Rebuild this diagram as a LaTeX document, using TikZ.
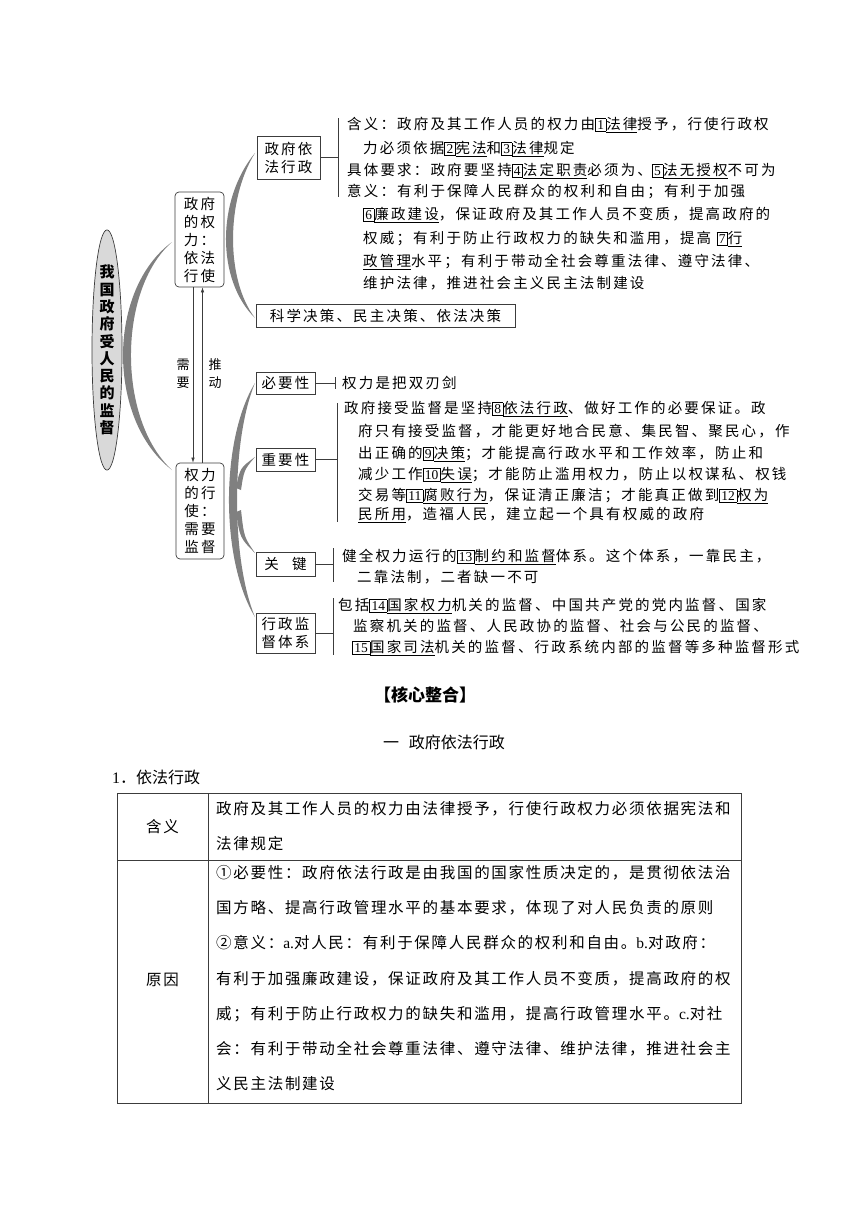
\documentclass[tikz,border=0pt]{standalone}
\usepackage{fontspec}
\setmainfont{Noto Sans CJK SC}
\newfontfamily\cjk[LetterSpace=15]{Noto Sans CJK SC}
\newfontfamily\cjkt[LetterSpace=11]{Noto Sans CJK SC}
\newfontfamily\numf{Liberation Serif}
\usetikzlibrary{shapes.geometric, arrows.meta, positioning, calc}
\definecolor{mygray}{RGB}{128,128,128}
\definecolor{myshade}{RGB}{217,217,217}
\definecolor{myline}{RGB}{60,60,60}
\newcommand{\nbox}[1]{{\setlength{\fboxsep}{1.6pt}\setlength{\fboxrule}{0.6pt}\fbox{\numf\fontsize{13.5}{13.5}\selectfont #1}}}
\newcommand{\ans}[1]{\underline{#1}}
\tikzset{
  kbox/.style={rectangle,draw=myline,line width=0.7pt,inner sep=0pt,align=center,
    font=\cjk\fontsize{14.5}{18}\selectfont},
  rbox/.style={kbox,rounded corners=4pt},
  ln/.style={anchor=base west,inner sep=0pt,yshift=-5.5pt,font=\cjk\fontsize{14.5}{17}\selectfont},
  tln/.style={anchor=base west,inner sep=0pt,yshift=-6pt,font=\cjkt\fontsize{15.5}{17}\selectfont},
  moon/.style={fill=mygray,draw=none},
  brace/.style={draw=myline,line width=0.6pt},
  arr/.style={-{Latex[length=5pt,width=3.5pt]},draw=myline,line width=0.6pt},
  small/.style={align=center,inner sep=0pt,font=\cjk\fontsize{13}{18}\selectfont}
}

\begin{document}
\begin{tikzpicture}[x=1pt,y=-1pt]
  \fill[white] (0,0) rectangle (860,1216);
  \useasboundingbox (0,0) rectangle (860,1216);

  % Root ellipse
  \node[ellipse,draw=myline,fill=myshade,line width=0.7pt,minimum width=30pt,minimum height=215pt,
    inner sep=0pt,align=center,font=\bfseries\fontsize{15}{17.3}\selectfont] (root) at (107,350)
    {我\\国\\政\\府\\受\\人\\民\\的\\监\\督};

  % Crescents
  \fill[moon] (172,242) .. controls (106.7,290) and (106.7,420) .. (172,470)
    .. controls (117.3,420) and (117.3,290) .. (172,242) -- cycle;
  \fill[moon] (255,153) .. controls (216.3,200) and (216.3,280) .. (255,318)
    .. controls (225.7,280) and (225.7,200) .. (255,153) -- cycle;
  \fill[moon] (255,383) .. controls (220.3,440) and (220.3,560) .. (255,617)
    .. controls (231,560) and (231,440) .. (255,383) -- cycle;
  \fill[moon] (236,488) .. controls (240,468) .. (255,457) .. controls (244,470) .. (241,490) -- cycle;
  \fill[moon] (236,512) .. controls (240,538) .. (255,553) .. controls (244,537) .. (241,510) -- cycle;

  % Level 1
  \node[rbox,minimum width=49pt,minimum height=95pt] (zfql) at (199.5,239.5) {政府\\的权\\力：\\依法\\行使};
  \node[rbox,minimum width=48pt,minimum height=96pt] (qlxs) at (200,511) {权力\\的行\\使：\\需要\\监督};

  \coordinate (dn) at ([xshift=-6.5pt]zfql.south);
  \draw[arr] (dn) -- (dn |- qlxs.north);
  \coordinate (up) at ([xshift=2.5pt]qlxs.north);
  \draw[arr] (up) -- (up |- zfql.south);
  \node[small] (need) at (183,374) {需\\要};
  \node[small] (push) at (215,374) {推\\动};

  % Level 2
  \node[kbox,minimum width=63pt,minimum height=43pt] (yfxz) at (288.5,157.5) {政府依\\法行政};
  \node[kbox,minimum width=259pt,minimum height=23pt] (jc) at (385.5,316) {科学决策、民主决策、依法决策};
  \node[kbox,minimum width=59pt,minimum height=22pt] (byx) at (285.5,383) {必要性};
  \node[kbox,minimum width=59pt,minimum height=23pt] (zyx) at (285.5,459.5) {重要性};
  \node[kbox,minimum width=59pt,minimum height=24pt] (gj) at (285.5,564) {关\hspace{0.9em}键};
  \node[kbox,minimum width=59pt,minimum height=40pt] (xzjd) at (285.5,633) {行政监\\督体系};

  % Brackets
  \coordinate (b1t) at (338,118); \coordinate (b1b) at (338,197);
  \draw[brace] (b1t) -- (b1b);
  \draw[brace] (yfxz.east) -- (yfxz.east -| b1t);
  \coordinate (b2t) at (335,377); \coordinate (b2b) at (335,389);
  \draw[brace] (b2t) -- (b2b);
  \draw[brace] (byx.east) -- (byx.east -| b2t);
  \coordinate (b3t) at (337,403); \coordinate (b3b) at (337,522);
  \draw[brace] (b3t) -- (b3b);
  \draw[brace] (zyx.east) -- (zyx.east -| b3t);
  \coordinate (b4t) at (333,548); \coordinate (b4b) at (333,582);
  \draw[brace] (b4t) -- (b4b);
  \draw[brace] (gj.east) -- (gj.east -| b4t);
  \coordinate (b5t) at (333,598); \coordinate (b5b) at (333,655);
  \draw[brace] (b5t) -- (b5b);
  \draw[brace] (xzjd.east) -- (xzjd.east -| b5t);

  % Text: 政府依法行政
  \node[ln] (t1a) at (347,124) {含义：政府及其工作人员的权力由\nbox{1}\ans{法律}授予，行使行政权};
  \node[ln] (t1b) at (363,148) {力必须依据\nbox{2}\ans{宪法}和\nbox{3}\ans{法律}规定};
  \node[ln] (t1c) at (347,170) {具体要求：政府要坚持\nbox{4}\ans{法定职责}必须为、\nbox{5}\ans{法无授权}不可为};
  \node[ln] (t1d) at (347,191) {意义：有利于保障人民群众的权利和自由；有利于加强};
  \node[ln] (t1e) at (363,214) {\nbox{6}\ans{廉政建设}，保证政府及其工作人员不变质，提高政府的};
  \node[ln] (t1f) at (363,238) {权威；有利于防止行政权力的缺失和滥用，提高 \nbox{7}\ans{行}};
  \node[ln] (t1g) at (363,261) {\ans{政管理}水平；有利于带动全社会尊重法律、遵守法律、};
  \node[ln] (t1h) at (363,283) {维护法律，推进社会主义民主法制建设};

  % Text: 必要性 / 重要性
  \node[ln] (t2) at (342,383) {权力是把双刃剑};
  \node[ln] (t3a) at (344,408) {政府接受监督是坚持\nbox{8}\ans{依法行政}、做好工作的必要保证。政};
  \node[ln] (t3b) at (358,431) {府只有接受监督，才能更好地合民意、集民智、聚民心，作};
  \node[ln] (t3c) at (358,453) {出正确的\nbox{9}\ans{决策}；才能提高行政水平和工作效率，防止和};
  \node[ln] (t3d) at (358,474) {减少工作\nbox{10}\ans{失误}；才能防止滥用权力，防止以权谋私、权钱};
  \node[ln] (t3e) at (358,495) {交易等\nbox{11}\ans{腐败行为}，保证清正廉洁；才能真正做到\nbox{12}\ans{权为}};
  \node[ln] (t3f) at (358,514) {\ans{民所用}，造福人民，建立起一个具有权威的政府};

  % Text: 关键 / 行政监督体系
  \node[ln] (t4a) at (342,556) {健全权力运行的\nbox{13}\ans{制约和监督}体系。这个体系，一靠民主，};
  \node[ln] (t4b) at (357,577) {二靠法制，二者缺一不可};
  \node[ln] (t5a) at (338,605) {包括\nbox{14}\ans{国家权力}机关的监督、中国共产党的党内监督、国家};
  \node[ln] (t5b) at (353,626) {监察机关的监督、人民政协的监督、社会与公民的监督、};
  \node[ln] (t5c) at (352,647) {\nbox{15}\ans{国家司法}机关的监督、行政系统内部的监督等多种监督形式};

  % Headings
  \node[font=\bfseries\fontsize{17}{17}\selectfont] (hxzh) at (425,695) {【核心整合】};
  \node[anchor=west,inner sep=0pt,font=\fontsize{16}{16}\selectfont] (yi) at (383,742) {一\hspace{0.6em}政府依法行政};
  \node[anchor=west,inner sep=0pt,font=\fontsize{16}{16}\selectfont] (one) at (112,777) {{\numf 1}．依法行政};

  % Table
  \draw[myline,line width=0.8pt] (117,793) rectangle (741,1103);
  \draw[myline,line width=0.8pt] (208,793) -- (208,1103);
  \draw[myline,line width=0.8pt] (117,860) -- (741,860);
  \node[font=\cjkt\fontsize{15.5}{17}\selectfont] (hy) at (162.5,826.5) {含义};
  \node[font=\cjkt\fontsize{15.5}{17}\selectfont] (yy) at (162.5,980) {原因};
  \node[tln] (r1a) at (216,808) {政府及其工作人员的权力由法律授予，行使行政权力必须依据宪法和};
  \node[tln] (r1b) at (216,843) {法律规定};
  \node[tln] (r2a) at (216,872) {①必要性：政府依法行政是由我国的国家性质决定的，是贯彻依法治};
  \node[tln] (r2b) at (216,907) {国方略、提高行政管理水平的基本要求，体现了对人民负责的原则};
  \node[tln] (r2c) at (216,942) {②意义：{\numf a.}对人民：有利于保障人民群众的权利和自由。{\numf b.}对政府：};
  \node[tln] (r2d) at (216,978) {有利于加强廉政建设，保证政府及其工作人员不变质，提高政府的权};
  \node[tln] (r2e) at (216,1013) {威；有利于防止行政权力的缺失和滥用，提高行政管理水平。{\numf c.}对社};
  \node[tln] (r2f) at (216,1048) {会：有利于带动全社会尊重法律、遵守法律、维护法律，推进社会主};
  \node[tln] (r2g) at (216,1083) {义民主法制建设};
\end{tikzpicture}
\end{document}
